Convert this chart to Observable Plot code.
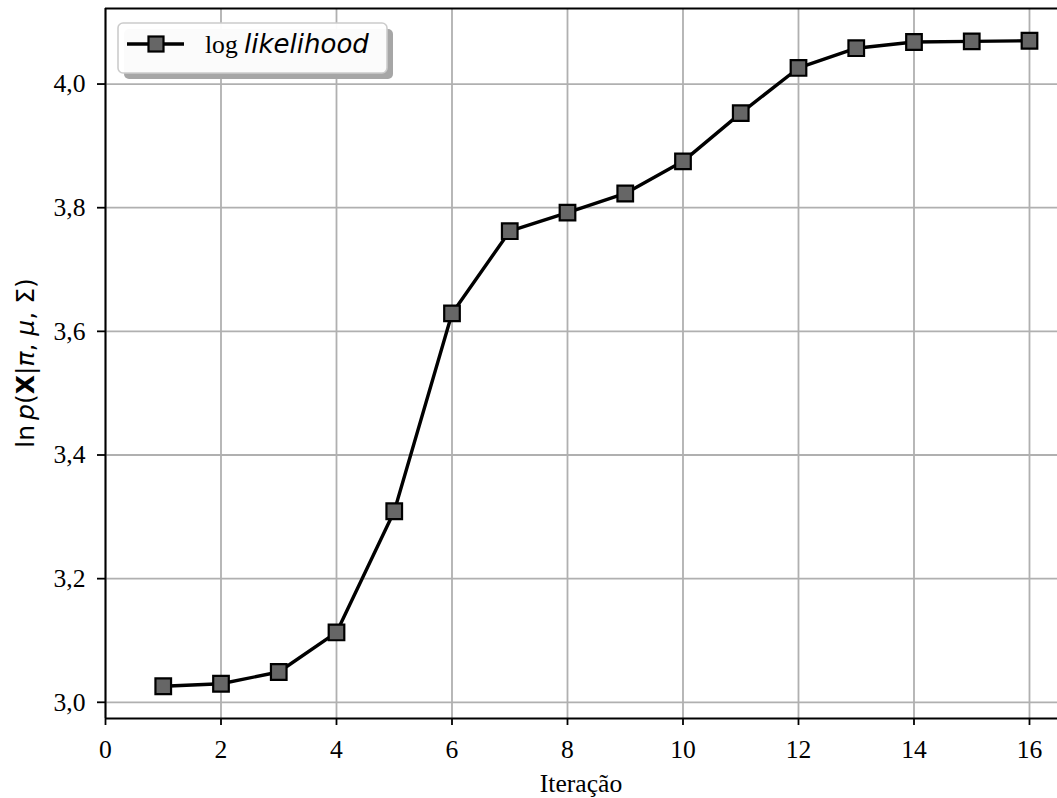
<!DOCTYPE html>
<html>
<head>
<meta charset="utf-8">
<script src="https://cdn.jsdelivr.net/npm/d3@7"></script>
<script src="https://cdn.jsdelivr.net/npm/@observablehq/plot@0.6"></script>
<style>
  body { margin: 0; background: #fff; }
  #chart { width: 1057px; height: 798px; }
</style>
</head>
<body>
<div id="chart"></div>
<script>
// EM iterations and the log-likelihood reached at each one
const iterations = [1, 2, 3, 4, 5, 6, 7, 8, 9, 10, 11, 12, 13, 14, 15, 16];
const logLikelihood = [3.026, 3.030, 3.049, 3.113, 3.309, 3.629, 3.762, 3.792,
                       3.823, 3.875, 3.953, 4.026, 4.058, 4.068, 4.069, 4.070];
const xTicks = [0, 2, 4, 6, 8, 10, 12, 14, 16];
const yTicks = [3.0, 3.2, 3.4, 3.6, 3.8, 4.0];

const data = iterations.map((x, i) => ({iter: x, ll: logLikelihood[i]}));

const W = 1057, H = 798;
const mL = 105, mR = 0, mT = 8, mB = 80;
const serif = "'Liberation Serif', 'Times New Roman', serif";
const sans = "'DejaVu Sans', sans-serif";
const xDomain = [0, 16.485];
const yDomain = [2.9738, 4.1222];
const comma = d => d.toFixed(1).replace(".", ",");

const chart = Plot.plot({
  width: W,
  height: H,
  marginLeft: mL,
  marginRight: mR,
  marginTop: mT,
  marginBottom: mB,
  style: {background: "white", fontFamily: serif, fontSize: "25.6px", color: "black", overflow: "visible"},
  x: {domain: xDomain},
  y: {domain: yDomain},
  marks: [
    Plot.gridX(xTicks, {stroke: "#b0b0b0", strokeOpacity: 1, strokeWidth: 1.8}),
    Plot.gridY(yTicks, {stroke: "#b0b0b0", strokeOpacity: 1, strokeWidth: 1.8}),
    Plot.line(data, {x: "iter", y: "ll", stroke: "black", strokeWidth: 3.4}),
    Plot.dot(data, {x: "iter", y: "ll", symbol: "square", r: 8.8, fill: "#666666", stroke: "black", strokeWidth: 2.2}),
    Plot.axisX(xTicks, {tickSize: 7, tickPadding: 14, strokeWidth: 1.8, label: null,
      fontFamily: serif, fontSize: 25.6, fontVariant: "normal", tickFormat: d => String(d)}),
    Plot.axisY(yTicks, {tickSize: 8, tickPadding: 12, strokeWidth: 1.8, label: null,
      fontFamily: serif, fontSize: 25.6, fontVariant: "normal", tickFormat: comma}),
    // spines: left, bottom, top
    Plot.ruleX([xDomain[0]], {stroke: "black", strokeWidth: 2}),
    Plot.ruleY([yDomain[0]], {stroke: "black", strokeWidth: 2}),
    Plot.ruleY([yDomain[1]], {stroke: "black", strokeWidth: 2})
  ]
});

document.getElementById("chart").appendChild(chart);
const svg = d3.select(chart);

// tick labels in the serif face
svg.selectAll("text").style("font-family", serif).style("font-size", "25.6px");

// x-axis title
svg.append("text")
  .attr("x", (mL + W - mR) / 2)
  .attr("y", 792)
  .attr("text-anchor", "middle")
  .style("font-family", serif)
  .style("font-size", "25.6px")
  .text("Iteração");

// y-axis title: ln p(X | π, μ, Σ)
const yLab = svg.append("text")
  .attr("transform", `translate(34,${(mT + H - mB) / 2}) rotate(-90)`)
  .attr("text-anchor", "middle")
  .style("font-family", sans)
  .style("font-size", "25px");
yLab.append("tspan").text("ln\u2009");
yLab.append("tspan").style("font-style", "italic").text("p");
yLab.append("tspan").text("(");
yLab.append("tspan").style("font-weight", "bold").text("X");
yLab.append("tspan").text("|");
yLab.append("tspan").style("font-style", "italic").text("π");
yLab.append("tspan").text(", ");
yLab.append("tspan").style("font-style", "italic").text("μ");
yLab.append("tspan").text(", Σ)");

// legend box with drop shadow
const lg = svg.append("g");
lg.append("rect")
  .attr("x", 124).attr("y", 29).attr("width", 269).attr("height", 50)
  .attr("rx", 5).attr("fill", "#a6a6a6");
lg.append("rect")
  .attr("x", 118).attr("y", 23).attr("width", 269).attr("height", 50)
  .attr("rx", 5).attr("fill", "white").attr("fill-opacity", 0.95)
  .attr("stroke", "#cccccc").attr("stroke-width", 1.6);
lg.append("line")
  .attr("x1", 127).attr("x2", 184).attr("y1", 44).attr("y2", 44)
  .attr("stroke", "black").attr("stroke-width", 3.4);
lg.append("rect")
  .attr("x", 148.5).attr("y", 36.5).attr("width", 15).attr("height", 15)
  .attr("fill", "#666666").attr("stroke", "black").attr("stroke-width", 2.2);
const lt = lg.append("text").attr("x", 205).attr("y", 53).attr("text-anchor", "start");
lt.append("tspan").style("font-family", serif).style("font-size", "25.6px").text("log ");
lt.append("tspan").style("font-family", sans).style("font-style", "italic").style("font-size", "26px").text("likelihood");
</script>
</body>
</html>
